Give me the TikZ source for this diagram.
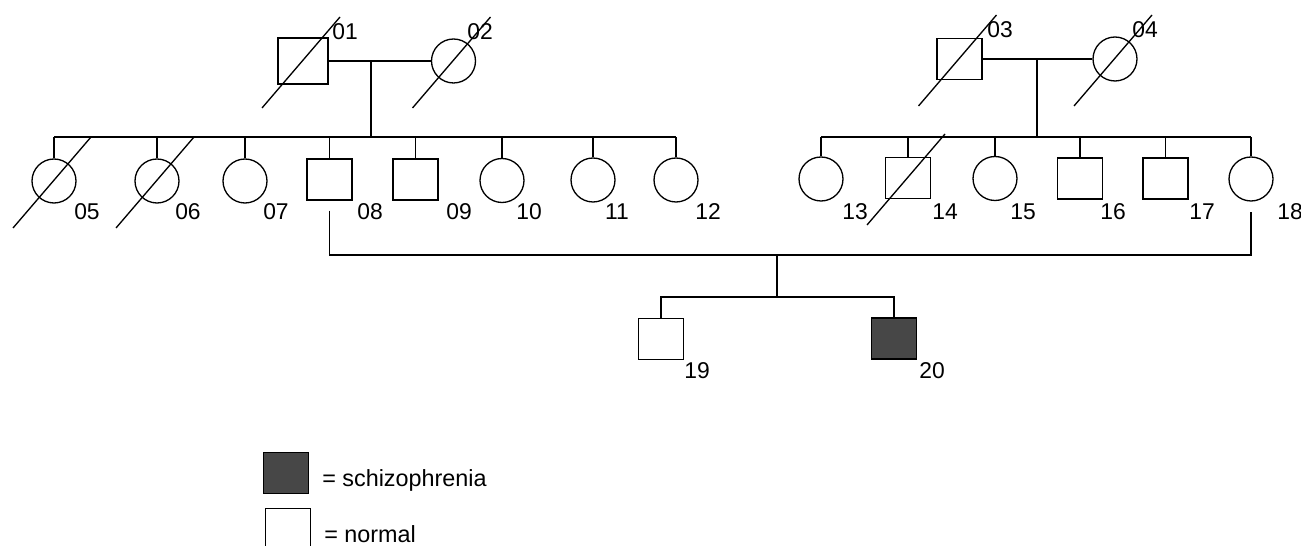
\documentclass[tikz,border=0pt]{standalone}
\usepackage{fontspec}
\setmainfont{Liberation Sans}
\usetikzlibrary{calc,positioning}
\tikzset{
  male/.style={
    shape = rectangle,
    draw,
    minimum width = 0.9cm,
    minimum height = 0.82cm,
    inner sep = 0pt
  },
  female/.style={
    shape = circle,
    draw,
    minimum size = 0.88cm,
    inner sep = 0pt
  },
  affected/.style={
    fill = black!72
  },
  idlabel/.style={
    font = \fontsize{13pt}{15pt}\selectfont,
    inner sep = 0pt
  },
  keytext/.style={
    anchor = base west,
    font = \fontsize{13.3pt}{16pt}\selectfont,
    inner sep = 0pt
  }
}

\begin{document}
\begin{tikzpicture}[x=0.02cm, y=-0.02cm, line width=0.75pt]
        \path[use as bounding box, clip] (0,0) rectangle (1301,546);

        % first generation
        \node[male, minimum width=1cm, minimum height=0.92cm] (n01) at (303,61) {};
        \node[female] (n02) at (453.5,61) {};
        \node[male] (n03) at (959.5,59) {};
        \node[female] (n04) at (1115,59) {};

        % second generation
        \node[female] (n05) at (54,181) {};
        \node[female] (n06) at (157,181) {};
        \node[female] (n07) at (245,181) {};
        \node[male] (n08) at (329.5,179.5) {};
        \node[male] (n09) at (415.5,179.5) {};
        \node[female] (n10) at (502,180.5) {};
        \node[female] (n11) at (593,180) {};
        \node[female] (n12) at (676,180) {};
        \node[female] (n13) at (821,179) {};
        \node[male] (n14) at (908,178) {};
        \node[female] (n15) at (995,178.5) {};
        \node[male] (n16) at (1080,178.5) {};
        \node[male] (n17) at (1165.5,178.5) {};
        \node[female] (n18) at (1251,179) {};

        % third generation
        \node[male] (n19) at (661,339) {};
        \node[male, affected] (n20) at (894,338.5) {};

        \coordinate (sibA) at (371,137);
        \coordinate (sibB) at (1037,137);
        \coordinate (desc) at (777,255);
        \coordinate (kids) at (777,297);

        \draw (n01) -- (n02);
        \draw (sibA |- n01) -- (sibA);
        \draw (n05 |- sibA) -- (n12 |- sibA);
        \foreach \c in {05,06,07,08,09,10,11,12}
            \draw (n\c.north) -- (n\c |- sibA);

        \draw (n03) -- (n04);
        \draw (sibB |- n03) -- (sibB);
        \draw (n13 |- sibB) -- (n18 |- sibB);
        \foreach \c in {13,14,15,16,17,18}
            \draw (n\c.north) -- (n\c |- sibB);

        \draw ([yshift=-0.2cm]n08.south) -- (n08 |- desc) -- (n18 |- desc) -- ([yshift=-0.2cm]n18.south);
        \draw (desc) -- (kids);
        \draw (n19.north) -- (n19 |- kids) -- (n20 |- kids) -- (n20.north);

        % deceased
        \foreach \p in {n01,n02,n03,n04,n05,n06,n14}
            \draw ($(\p)+(-41,47)$) -- ($(\p)+(37,-44)$);

        \node[idlabel] (l01) at (345,32) {01};
        \node[idlabel] (l02) at (480,32) {02};
        \node[idlabel] (l03) at (1000,30) {03};
        \node[idlabel] (l04) at (1145,30) {04};
        \node[idlabel] (l05) at (87,212) {05};
        \node[idlabel] (l06) at (188,212) {06};
        \node[idlabel] (l07) at (276,212) {07};
        \node[idlabel] (l08) at (370,212) {08};
        \node[idlabel] (l09) at (459,212) {09};
        \node[idlabel] (l10) at (529,212) {10};
        \node[idlabel] (l11) at (617,212) {11};
        \node[idlabel] (l12) at (708,212) {12};
        \node[idlabel] (l13) at (855,212) {13};
        \node[idlabel] (l14) at (945,212) {14};
        \node[idlabel] (l15) at (1023,212) {15};
        \node[idlabel] (l16) at (1113,212) {16};
        \node[idlabel] (l17) at (1202,212) {17};
        \node[idlabel] (l18) at (1290,212) {18};
        \node[idlabel] (l19) at (697,371) {19};
        \node[idlabel] (l20) at (932,371) {20};

        % key
        \node[male, affected] (keyA) at (286,473) {};
        \node[male] (keyB) at (288,529) {};
        \node[keytext] (keyAtext) at ([xshift=0.25cm, yshift=0.16cm]keyA.south east) {= schizophrenia};
        \node[keytext] (keyBtext) at ([xshift=0.25cm, yshift=0.16cm]keyB.south east) {= normal};
\end{tikzpicture}
\end{document}
